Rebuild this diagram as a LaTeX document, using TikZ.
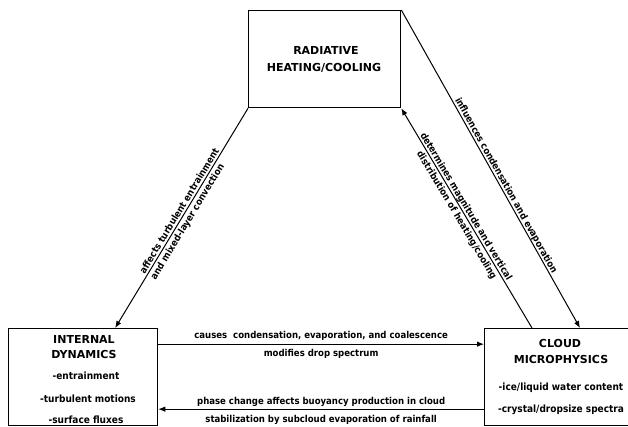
\documentclass[tikz,border=0pt]{standalone}
\usepackage{fontspec}
\setmainfont{DejaVu Sans}
\newfontfamily\lett{DejaVu Sans Condensed}
\usetikzlibrary{arrows.meta,calc}
\begin{document}
\begin{tikzpicture}[x=1pt,y=-1pt,
  box/.style={draw,line width=1.3pt,inner sep=0pt,anchor=north west},
  ttl/.style={font=\fontsize{11}{13}\selectfont\bfseries,inner sep=0pt,anchor=base},
  itm/.style={font=\lett\fontsize{10}{12}\selectfont\bfseries,inner sep=0pt,anchor=base},
  lbl/.style={font=\lett\fontsize{9.5}{11}\selectfont\bfseries,inner sep=0pt},
  conn/.style={line width=1pt,-{Latex[length=7pt,width=5.5pt]}},
  rconn/.style={line width=1pt,{Latex[length=7pt,width=5.5pt]}-},
]
\useasboundingbox (0,0) rectangle (628,427);
\clip (0,0) rectangle (628,427);

% boxes
\node[box,minimum width=152pt,minimum height=97pt] (rad) at (248,10) {};
\node[box,minimum width=149pt,minimum height=97pt] (intl) at (8,328) {};
\node[box,minimum width=160pt,minimum height=97pt] (cloud) at (484,328) {};

% box texts
\node[ttl] (radA) at (326,55) {RADIATIVE};
\node[ttl] (radB) at (324,72) {HEATING/COOLING};

\node[ttl] (intA) at (84,343) {INTERNAL};
\node[ttl] (intB) at (84,358) {DYNAMICS};
\node[itm] (intC) at (86,379) {-entrainment};
\node[itm] (intD) at (88,402) {-turbulent motions};
\node[itm] (intE) at (86,423) {-surface fluxes};

\node[ttl] (clA) at (560,347) {CLOUD};
\node[ttl] (clB) at (561,363) {MICROPHYSICS};
\node[itm] (clC) at (561,390) {-ice/liquid water content};
\node[itm] (clD) at (561,412) {-crystal/dropsize spectra};

% connector end points
\coordinate (h1) at ([yshift=33pt]intl.east);
\coordinate (h2) at ([yshift=-32pt]intl.east);
\coordinate (d1) at ([xshift=32pt]intl.north);
\coordinate (d2) at ([xshift=48pt]cloud.north west);
\coordinate (d3) at ([xshift=96pt]cloud.north west);

% horizontal connectors
\draw[conn] (h1) -- (h1 -| cloud.west)
  node[lbl,midway,anchor=base,yshift=6pt] (la1) {causes\ \ condensation, evaporation, and coalescence}
  node[lbl,midway,anchor=base,yshift=-12pt] (la2) {modifies drop spectrum};
\draw[conn] (h2 -| cloud.west) -- (h2)
  node[lbl,midway,anchor=base,yshift=5pt] (lb1) {phase change affects buoyancy production in cloud}
  node[lbl,midway,anchor=base,yshift=-13pt] (lb2) {stabilization by subcloud evaporation of rainfall};

% diagonal connectors
\draw[rconn] (d1) -- (rad.south west);
\draw[rconn] (rad.south east) -- (d2);
\draw[conn] (rad.north east) -- (d3);

% diagonal labels
\node[lbl,rotate=58.8,anchor=base] (lc1) at ($(d1)!0.52!(rad.south west)!2.5pt!90:(rad.south west)$) {affects turbulent entrainment};
\node[lbl,rotate=58.8,anchor=north] (lc2) at ($(d1)!0.50!(rad.south west)!2.5pt!-90:(rad.south west)$) {and mixed-layer convection};
\node[lbl,rotate=-59.2,anchor=base] (ld1) at ($(rad.south east)!0.46!(d2)!2.5pt!90:(d2)$) {determines magnitude and vertical};
\node[lbl,rotate=-59.2,anchor=north] (ld2) at ($(rad.south east)!0.47!(d2)!2.5pt!-90:(d2)$) {distribution of heating/cooling};
\node[lbl,rotate=-60.7,anchor=base] (le1) at ($(rad.north east)!0.56!(d3)!2.5pt!90:(d3)$) {influences condensation and evaporation};
\end{tikzpicture}
\end{document}
